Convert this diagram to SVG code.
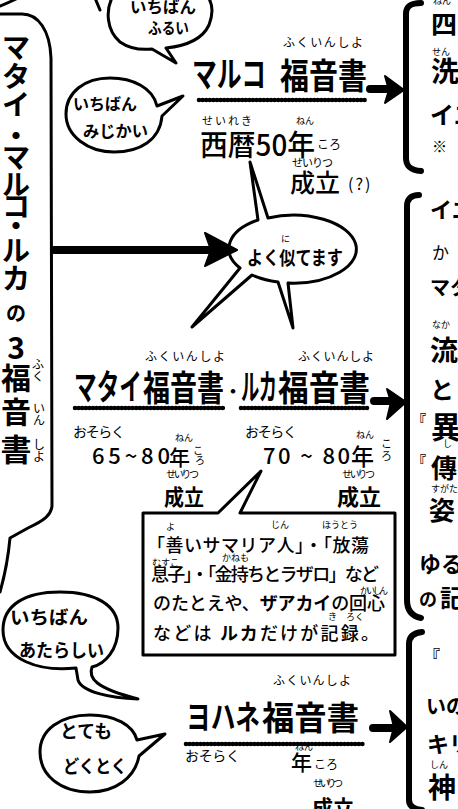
<svg xmlns="http://www.w3.org/2000/svg" width="458" height="809" viewBox="0 0 458 809">
<style>
text{font-family:"Noto Sans CJK JP","Noto Sans",sans-serif;fill:#000}
.b{font-weight:700}
.m{font-weight:500}
.ln{fill:none;stroke:#000;stroke-width:3;stroke-linecap:round;stroke-linejoin:round}
.bk{fill:none;stroke:#000;stroke-width:6;stroke-linecap:round;stroke-linejoin:round}
.wv{fill:none;stroke:#000;stroke-width:2.4}
.wb{fill:none;stroke:#000;stroke-width:4.6;stroke-dasharray:0 3.6;stroke-linecap:round}
.sh{fill:none;stroke:#000;stroke-width:8;stroke-linecap:round}
.ah{fill:#000;stroke:#000;stroke-width:2;stroke-linejoin:round}
.ruby{font-size:9px}
</style>
<rect width="458" height="809" fill="#fff"/>

<g id="left-title">
<path class="ln" d="M0,6 Q8,3 16,-1"/>
<path class="ln" d="M0,14 L22,14 C38,14 50,30 51,58 L52,506 C51,515 45,520 28,528 L10,538 C8,560 4,578 0,592"/>
<g class="b" font-size="28" text-anchor="middle">
<text x="16" y="58">マ</text>
<text x="16" y="87">タ</text>
<text x="16" y="115">イ</text>
<text x="16" y="147">・</text>
<text x="16" y="168">マ</text>
<text x="16" y="195">ル</text>
<text x="16" y="217">コ</text>
<text x="16" y="237">・</text>
<text x="16" y="261">ル</text>
<text x="16" y="289">カ</text>
<text x="16" y="321" font-size="20">の</text>
<text x="16" y="359" font-size="30">3</text>
<text x="16" y="389" font-size="30">福</text>
<text x="16" y="423" font-size="30">音</text>
<text x="16" y="461" font-size="31">書</text>
</g>
<g font-size="12" text-anchor="middle">
<text x="38" y="369">ふ</text><text x="38" y="381">く</text>
<text x="39" y="413">い</text><text x="39" y="425">ん</text>
<text x="39" y="449">し</text><text x="39" y="461">よ</text>
</g>
</g>

<g id="bubble-oldest">
<path class="ln" d="M95,-2 L100,10"/>
<path class="ln" d="M112,-2 C106,10 106,30 120,42 C130,49 142,50 152,49 L176,63 L166,48 C185,46 202,40 209,25 C214,12 212,3 208,-3"/>
<text class="b" x="130" y="13" font-size="16" textLength="66" lengthAdjust="spacingAndGlyphs">いちばん</text>
<text class="b" x="148" y="34" font-size="16" textLength="41" lengthAdjust="spacingAndGlyphs">ふるい</text>
</g>

<g id="bubble-shortest">
<path class="ln" d="M157,106 C153,88 133,78 110,78 C85,78 66,92 66,114 C66,136 88,152 114,152 C140,152 160,140 162,116 L183,96 Z"/>
<text class="b" x="73" y="110" font-size="16" textLength="64" lengthAdjust="spacingAndGlyphs">いちばん</text>
<text class="b" x="83" y="137" font-size="16" textLength="65" lengthAdjust="spacingAndGlyphs">みじかい</text>
</g>

<g id="mark">
<text x="283" y="47" font-size="12" textLength="80">ふくいんしよ</text>
<text class="b" x="192" y="87" font-size="35" textLength="74" lengthAdjust="spacingAndGlyphs">マルコ</text>
<text class="b" x="280" y="89" font-size="35" textLength="87" lengthAdjust="spacingAndGlyphs">福音書</text>
<path class="wv" d="M199,100H366"/><path class="wb" d="M199,100H366"/>
<text x="202" y="125" font-size="11" textLength="50">せいれき</text>
<text class="ruby" x="296" y="124">ねん</text>
<text class="m" x="200" y="156" font-size="29" textLength="115" lengthAdjust="spacingAndGlyphs">西暦50年</text>
<text x="317" y="149" font-size="12">ころ</text>
<text x="292" y="167" font-size="11" textLength="41">せいりつ</text>
<text class="m" x="290" y="192" font-size="25" textLength="50" lengthAdjust="spacingAndGlyphs">成立</text>
<text x="348" y="190" font-size="16" letter-spacing="2">(?)</text>
</g>

<g id="bubble-similar">
<path class="ln" d="M250,162 L268,218 A63,34 0 1 1 288,283 L293,328 L278,282 A63,34 0 0 1 252,275 L192,327 L240,268 A63,34 0 0 1 258,220 Z"/>
<text class="ruby" x="281" y="242">に</text>
<text class="b" x="247" y="265" font-size="19" textLength="96" lengthAdjust="spacingAndGlyphs">よく似てます</text>
</g>

<g id="matthew-luke">
<text x="145" y="361" font-size="12" textLength="80">ふくいんしよ</text>
<text x="298" y="361" font-size="12" textLength="76">ふくいんしよ</text>
<text class="b" x="74" y="400" font-size="35" textLength="68" lengthAdjust="spacingAndGlyphs">マタイ</text>
<text class="b" x="143" y="401" font-size="35" textLength="81" lengthAdjust="spacingAndGlyphs">福音書</text>
<text class="b" x="233" y="398" font-size="18" text-anchor="middle">・</text>
<text class="b" x="241" y="400" font-size="35" textLength="36" lengthAdjust="spacingAndGlyphs">ルカ</text>
<text class="b" x="278" y="401" font-size="35" textLength="92" lengthAdjust="spacingAndGlyphs">福音書</text>
<path class="wv" d="M75,408H225"/><path class="wb" d="M75,408H225"/>
<path class="wv" d="M241,408H368"/><path class="wb" d="M241,408H368"/>
<text x="73" y="437" font-size="14" textLength="52">おそらく</text>
<text class="ruby" x="175" y="441">ねん</text>
<text class="m" x="92" y="464" font-size="22" textLength="78">65~80</text>
<text class="m" x="169" y="465" font-size="21">年</text>
<text x="193" y="454" font-size="10">こ</text><text x="195" y="464" font-size="10">ろ</text>
<text x="166" y="478" font-size="10" textLength="33">せいりつ</text>
<text class="b" x="164" y="505" font-size="22" textLength="40" lengthAdjust="spacingAndGlyphs">成立</text>
<text x="245" y="437" font-size="14" textLength="52">おそらく</text>
<text class="ruby" x="356" y="438">ねん</text>
<text class="m" x="263" y="464" font-size="22" textLength="87">70 ~ 80</text>
<text class="m" x="351" y="465" font-size="23">年</text>
<text x="381" y="448" font-size="11">こ</text><text x="381" y="460" font-size="11">ろ</text>
<text x="342" y="478" font-size="10" textLength="33">せいりつ</text>
<text class="b" x="337" y="505" font-size="22" textLength="44" lengthAdjust="spacingAndGlyphs">成立</text>
</g>

<g id="luke-note">
<path class="ln" d="M143,513 H218 L261,471 L240,513 H395 V655 H143 Z"/>
<text class="ruby" x="166" y="530">よ</text>
<text class="ruby" x="271" y="528">じん</text>
<text class="ruby" x="322" y="528">ほうとう</text>
<text class="m" x="147" y="552" font-size="18" textLength="222">「善いサマリア人」・「放蕩</text>
<text class="ruby" x="152" y="566">むすこ</text>
<text class="ruby" x="222" y="561">かねも</text>
<text class="m" x="151" y="581" font-size="18" textLength="228">息子」・「金持ちとラザロ」など</text>
<text class="ruby" x="360" y="594" textLength="28">かいしん</text>
<text class="m" x="153" y="610" font-size="18" textLength="232">のたとえや、<tspan class="b">ザアカイ</tspan>の回心</text>
<text class="ruby" x="328" y="620">き</text><text class="ruby" x="346" y="620">ろく</text>
<text class="m" x="153" y="640" font-size="18" textLength="226">などは <tspan class="b">ルカ</tspan>だけが記録。</text>
</g>

<g id="bubble-newest">
<path class="ln" d="M92,667 C88,678 95,688 138,699 C110,698 82,692 78,680 L76,668 C40,672 3,660 3,630 C3,605 25,592 60,592 C95,592 118,605 118,628 C118,650 105,664 92,667 Z"/>
<text class="b" x="10" y="624" font-size="18" textLength="78" lengthAdjust="spacingAndGlyphs">いちばん</text>
<text class="b" x="19" y="657" font-size="18" textLength="85" lengthAdjust="spacingAndGlyphs">あたらしい</text>
</g>

<g id="bubble-unique">
<path class="ln" d="M137,740 L165,734 L139,756 C135,778 115,792 90,792 C60,792 40,775 40,752 C40,730 60,715 90,715 C115,715 133,725 137,740 Z"/>
<text class="b" x="60" y="738" font-size="18" textLength="52" lengthAdjust="spacingAndGlyphs">とても</text>
<text class="b" x="63" y="773" font-size="18" textLength="64" lengthAdjust="spacingAndGlyphs">どくとく</text>
</g>

<g id="john">
<text x="273" y="685" font-size="12" textLength="78">ふくいんしよ</text>
<text class="b" x="186" y="729" font-size="33" textLength="74" lengthAdjust="spacingAndGlyphs">ヨハネ</text>
<text class="b" x="262" y="730" font-size="33" textLength="97" lengthAdjust="spacingAndGlyphs">福音書</text>
<path class="wv" d="M186,744H363"/><path class="wb" d="M186,744H363"/>
<text x="185" y="761" font-size="14" textLength="55">おそらく</text>
<text class="ruby" x="295" y="750">ねん</text>
<text class="m" x="291" y="770" font-size="21">年</text>
<text x="314" y="769" font-size="12">ころ</text>
<text x="313" y="787" font-size="10" textLength="30">せいりつ</text>
<text class="b" x="312" y="816" font-size="22" textLength="42" lengthAdjust="spacingAndGlyphs">成立</text>
</g>

<g id="notes-mark">
<path class="bk" d="M421,3 C411,3 406,6 406,14 L406,158 C406,166 410,170 421,171"/>
<text class="ruby" x="433" y="4">ねん</text>
<text class="b" x="431" y="34" font-size="26">四</text>
<text class="ruby" x="432" y="55">せん</text>
<text class="b" x="431" y="82" font-size="28">洗</text>
<text class="b" x="430" y="124" font-size="24">イエ</text>
<text x="432" y="152" font-size="15">※</text>
</g>

<g id="notes-matthew-luke">
<path class="bk" d="M419,195 C411,195 407,199 407,206 L407,600 C407,610 411,616 421,618"/>
<text class="b" x="430" y="218" font-size="22">イエ</text>
<text x="432" y="259" font-size="17">か</text>
<text class="b" x="430" y="295" font-size="20">マタ</text>
<text class="ruby" x="432" y="328">なか</text>
<text class="b" x="430" y="361" font-size="28">流</text>
<text class="b" x="430" y="399" font-size="24">と</text>
<text class="b" x="412" y="425" font-size="14">『</text>
<text class="b" x="431" y="438" font-size="30">異</text>
<text class="ruby" x="443" y="447">し</text>
<text class="b" x="412" y="466" font-size="14">『</text>
<text class="b" x="431" y="478" font-size="26">傳</text>
<text class="ruby" x="431" y="492">すがた</text>
<text class="b" x="429" y="520" font-size="26">姿</text>
<text class="b" x="419" y="572" font-size="22">ゆる</text>
<text class="b" x="419" y="606" font-size="18">の</text>
<text class="b" x="440" y="607" font-size="24">記</text>
</g>

<g id="notes-john">
<path class="bk" d="M422,632 C413,633 409,637 409,644 L409,800 C409,806 413,809 422,810"/>
<text class="b" x="424" y="662" font-size="16">『</text>
<text class="b" x="426" y="714" font-size="20">いの</text>
<text class="b" x="427" y="752" font-size="22">キリ</text>
<text class="ruby" x="430" y="768">しん</text>
<text class="b" x="428" y="798" font-size="28">神</text>
</g>

<g id="connectors">
<path class="sh" d="M54,250 H212"/>
<polygon class="ah" points="205,233 237,250 205,266 211,250"/>
<path class="sh" d="M370,89 H392"/>
<polygon class="ah" points="385,76 404,90 385,103 389,90"/>
<path class="sh" d="M374,401 H394"/>
<polygon class="ah" points="387,389 406,402 387,419 391,402"/>
<path class="sh" d="M373,728 H394"/>
<polygon class="ah" points="390,711 407,727 390,742 394,727"/>
</g>
</svg>
